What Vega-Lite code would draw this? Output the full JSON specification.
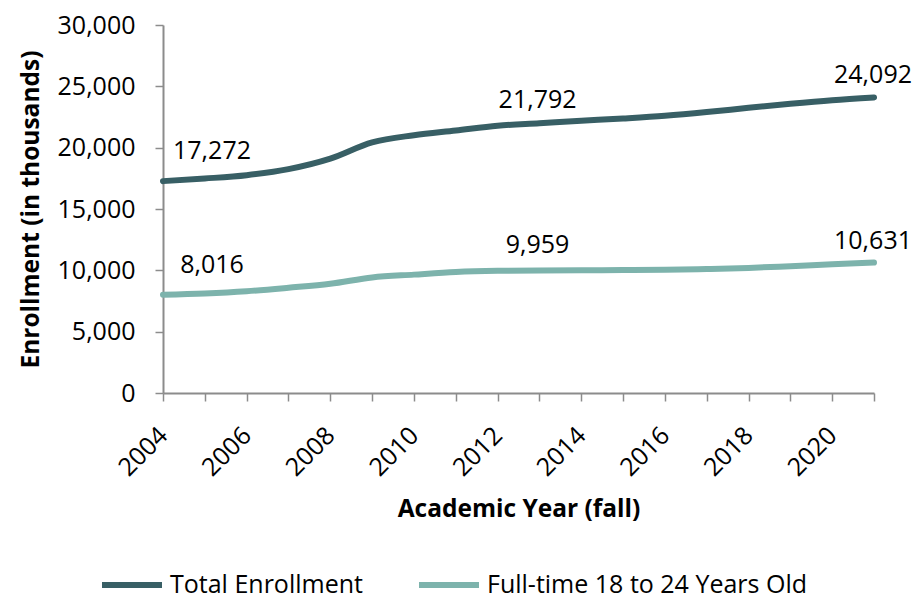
{
  "$schema": "https://vega.github.io/schema/vega-lite/v6.json",
  "autosize": {"type": "none"},
  "width": 711,
  "height": 368,
  "padding": {"left": 163, "top": 25, "right": 43, "bottom": 205},
  "background": "white",
  "config": {
    "view": {"stroke": null},
    "font": "Open Sans",
    "axis": {
      "grid": false,
      "domainColor": "#8c8c8c",
      "domainWidth": 2,
      "tickColor": "#8c8c8c",
      "tickWidth": 1.5,
      "tickSize": 8,
      "labelColor": "#000000",
      "labelFont": "Open Sans",
      "labelFontSize": 25,
      "titleColor": "#000000",
      "titleFont": "Open Sans",
      "titleFontSize": 24.5,
      "titleFontWeight": "bold"
    }
  },
  "datasets": {
    "enrollment": [
      {"year": 2004, "series": "Total Enrollment", "value": 17272},
      {"year": 2005, "series": "Total Enrollment", "value": 17487},
      {"year": 2006, "series": "Total Enrollment", "value": 17759},
      {"year": 2007, "series": "Total Enrollment", "value": 18248},
      {"year": 2008, "series": "Total Enrollment", "value": 19103},
      {"year": 2009, "series": "Total Enrollment", "value": 20428},
      {"year": 2010, "series": "Total Enrollment", "value": 21016},
      {"year": 2011, "series": "Total Enrollment", "value": 21400},
      {"year": 2012, "series": "Total Enrollment", "value": 21792},
      {"year": 2013, "series": "Total Enrollment", "value": 21990},
      {"year": 2014, "series": "Total Enrollment", "value": 22190},
      {"year": 2015, "series": "Total Enrollment", "value": 22380},
      {"year": 2016, "series": "Total Enrollment", "value": 22600},
      {"year": 2017, "series": "Total Enrollment", "value": 22900},
      {"year": 2018, "series": "Total Enrollment", "value": 23250},
      {"year": 2019, "series": "Total Enrollment", "value": 23580},
      {"year": 2020, "series": "Total Enrollment", "value": 23870},
      {"year": 2021, "series": "Total Enrollment", "value": 24092},
      {"year": 2004, "series": "Full-time 18 to 24 Years Old", "value": 8016},
      {"year": 2005, "series": "Full-time 18 to 24 Years Old", "value": 8120},
      {"year": 2006, "series": "Full-time 18 to 24 Years Old", "value": 8300},
      {"year": 2007, "series": "Full-time 18 to 24 Years Old", "value": 8580},
      {"year": 2008, "series": "Full-time 18 to 24 Years Old", "value": 8900},
      {"year": 2009, "series": "Full-time 18 to 24 Years Old", "value": 9420},
      {"year": 2010, "series": "Full-time 18 to 24 Years Old", "value": 9650},
      {"year": 2011, "series": "Full-time 18 to 24 Years Old", "value": 9860},
      {"year": 2012, "series": "Full-time 18 to 24 Years Old", "value": 9959},
      {"year": 2013, "series": "Full-time 18 to 24 Years Old", "value": 9990},
      {"year": 2014, "series": "Full-time 18 to 24 Years Old", "value": 10010},
      {"year": 2015, "series": "Full-time 18 to 24 Years Old", "value": 10020},
      {"year": 2016, "series": "Full-time 18 to 24 Years Old", "value": 10040},
      {"year": 2017, "series": "Full-time 18 to 24 Years Old", "value": 10110},
      {"year": 2018, "series": "Full-time 18 to 24 Years Old", "value": 10200},
      {"year": 2019, "series": "Full-time 18 to 24 Years Old", "value": 10340},
      {"year": 2020, "series": "Full-time 18 to 24 Years Old", "value": 10490},
      {"year": 2021, "series": "Full-time 18 to 24 Years Old", "value": 10631}
    ]
  },
  "data": {"name": "enrollment"},
  "encoding": {
    "x": {
      "field": "year",
      "type": "quantitative",
      "scale": {"domain": [2004, 2021], "nice": false, "zero": false},
      "axis": {
        "title": "Academic Year (fall)",
        "values": [2004, 2005, 2006, 2007, 2008, 2009, 2010, 2011, 2012, 2013, 2014, 2015, 2016, 2017, 2018, 2019, 2020, 2021],
        "format": "d",
        "labelExpr": "datum.value % 2 == 0 ? datum.label : ''",
        "labelAngle": -45,
        "labelAlign": "right",
        "labelBaseline": "middle",
        "labelPadding": 30,
        "labelOverlap": false,
        "titlePadding": 17
      }
    },
    "y": {
      "field": "value",
      "type": "quantitative",
      "scale": {"domain": [0, 30000], "nice": false},
      "axis": {
        "title": "Enrollment (in thousands)",
        "values": [0, 5000, 10000, 15000, 20000, 25000, 30000],
        "format": ",.0f",
        "labelPadding": 20,
        "titlePadding": 14
      }
    }
  },
  "layer": [
    {
      "mark": {"type": "line", "strokeWidth": 6, "strokeCap": "round", "interpolate": "monotone"},
      "encoding": {
        "color": {
          "field": "series",
          "type": "nominal",
          "scale": {
            "domain": ["Total Enrollment", "Full-time 18 to 24 Years Old"],
            "range": ["#385f65", "#7db3ac"]
          },
          "legend": {
            "title": null,
            "orient": "none",
            "direction": "horizontal",
            "padding": 0,
            "legendX": -64,
            "legendY": 527,
            "symbolType": "stroke",
            "symbolSize": 3600,
            "symbolStrokeWidth": 6,
            "labelFont": "Open Sans",
            "labelFontSize": 25,
            "labelColor": "#000000",
            "labelOffset": 5,
            "labelLimit": 500,
            "columnPadding": 44
          }
        }
      }
    },
    {
      "transform": [{"filter": "datum.year == 2004"}],
      "mark": {"type": "text", "fontSize": 25, "dx": 49, "dy": -30, "color": "#000000"},
      "encoding": {"text": {"field": "value", "type": "quantitative", "format": ",.0f"}}
    },
    {
      "transform": [{"filter": "datum.year == 2012"}],
      "mark": {"type": "text", "fontSize": 25, "dx": 40, "dy": -26, "color": "#000000"},
      "encoding": {"text": {"field": "value", "type": "quantitative", "format": ",.0f"}}
    },
    {
      "transform": [{"filter": "datum.year == 2021"}],
      "mark": {"type": "text", "fontSize": 25, "dx": -1, "dy": -22, "color": "#000000"},
      "encoding": {"text": {"field": "value", "type": "quantitative", "format": ",.0f"}}
    }
  ]
}
